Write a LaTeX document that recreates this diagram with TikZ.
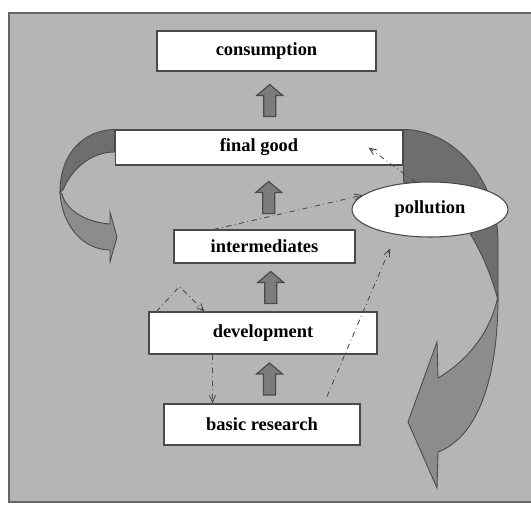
\documentclass[tikz,border=0pt]{standalone}
\usepackage{fontspec}
\setmainfont{Liberation Serif}
\usetikzlibrary{arrows,shapes,calc,positioning}

\definecolor{panelgray}{HTML}{B5B5B5}
\definecolor{backgray}{HTML}{6E6E6E}
\definecolor{frontgray}{HTML}{8C8C8C}
\definecolor{arrowgray}{HTML}{7C7C7C}
\definecolor{linegray}{HTML}{4A4A4A}

\tikzset{
  box/.style={draw=linegray, fill=white, line width=0.6pt, inner sep=0pt,
              font=\fontsize{10.5pt}{12pt}\selectfont\bfseries},
  cloud/.style={ellipse, draw=linegray, fill=white, line width=0.6pt, inner sep=0pt,
              font=\fontsize{10.5pt}{12pt}\selectfont\bfseries},
  blockarr/.style={draw=linegray, fill=arrowgray, line width=0.7pt},
  flow/.style={->, dash dot, draw=linegray, line width=0.5pt},
  ribbon/.style={draw=linegray, line width=0.5pt},
}

% thick up arrow half way between two boxes
\newcommand{\blockup}[2]{%
  \coordinate (mid) at ($(#1.north)!0.5!(#2.south)$);
  \draw[blockarr] ($(mid)+(1,16)$) -- ++(0,-21) -- ++(-7,0) -- ++(13,-11)
        -- ++(13,11) -- ++(-7,0) -- ++(0,21) -- cycle;
}

\begin{document}
\begin{tikzpicture}[x=0.02cm, y=-0.02cm, >=angle 45]
  \useasboundingbox (0,0) rectangle (531,507);
  % grey panel
  \draw[fill=panelgray, draw=gray!80!black, line width=1pt] (9,13) rectangle (545,502);

  % boxes
  \node[box, minimum width=4.38cm, minimum height=0.80cm] (cons)  at (266.5,51)  {consumption};
  \node[box, minimum width=5.76cm, minimum height=0.70cm] (final) at (259,147.5) {final good};
  \node[box, minimum width=3.62cm, minimum height=0.66cm] (inter) at (264.5,246.5) {intermediates};
  \node[box, minimum width=4.56cm, minimum height=0.84cm] (devel) at (263,333)   {development};
  \node[box, minimum width=3.92cm, minimum height=0.82cm] (basic) at (262,424.5) {basic research};

  % left curved arrow
  \draw[ribbon, fill=backgray] (final.north west) .. controls (85,130) and (60,152) .. (60,192)
        -- (63,190) .. controls (72,168) and (92,152) .. (final.west |- 0,152) -- cycle;
  \draw[ribbon, fill=frontgray] (60,192) .. controls (62,228) and (85,250) .. (110,250)
        -- (110,262) -- (117,237) -- (110,212) -- (110,224)
        .. controls (85,222) and (66,210) .. (62,194) -- cycle;

  % right curved arrow
  \draw[ribbon, fill=backgray] (final.north east) .. controls (455,130) and (497,180) .. (498,240)
        -- (498,300) .. controls (485,250) and (450,185) .. (final.east |- 0,182) -- cycle;
  \draw[ribbon, fill=frontgray] (498,296) .. controls (498,385) and (475,438) .. (438,452)
        -- (437,488) -- (408,422) -- (437,342) -- (438,378)
        .. controls (465,362) and (490,335) .. (498,296) -- cycle;

  % pollution
  \node[cloud, minimum width=3.12cm, minimum height=1.1cm] (poll) at (430,209.5) {pollution};

  % thick arrows
  \blockup{final}{cons}
  \blockup{inter}{final}
  \blockup{devel}{inter}
  \blockup{basic}{devel}

  % dashed flows
  \coordinate (inpoll) at ($(final.east)+(-35,0)$);
  \coordinate (uppoll) at ($(poll.south)+(-40,11)$);
  \draw[flow] ($(inter.north west)!0.22!(inter.north east)$) -- (poll.168);
  \draw[flow] (poll.118) -- (inpoll);
  \draw[flow] ($(basic.north)!0.66!(basic.north east)+(0,-7)$) -- (uppoll);
  \draw[flow] ($(devel.north west)+(8,0)$) -- ++(23,-25) -- ($(devel.north west)+(56,0)$);
  \draw[flow] ($(devel.south west)+(64,0)$) -- ($(basic.north west)+(49,0)$);
\end{tikzpicture}
\end{document}
